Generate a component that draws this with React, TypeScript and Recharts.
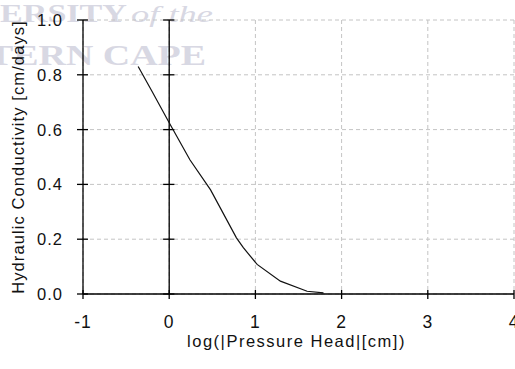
import React from 'react';
import { ComposedChart, Line, XAxis, YAxis, CartesianGrid, ReferenceLine } from 'recharts';

const logHead = [-0.36, -0.2, 0, 0.24, 0.48, 0.78, 0.86, 1.02, 1.29, 1.6, 1.79];
const conductivity = [0.83, 0.74, 0.625, 0.49, 0.38, 0.205, 0.169, 0.108, 0.047, 0.01, 0.004];
const xTicks = [-1, 0, 1, 2, 3, 4];
const yTicks = [0, 0.2, 0.4, 0.6, 0.8, 1.0];
const xTitle = 'log(|Pressure Head|[cm])';
const yTitle = 'Hydraulic Conductivity [cm/days]';
const watermark1 = 'ERSITY';
const watermark2 = 'of the';
const watermark3 = 'TERN CAPE';

const data = logHead.map((x, i) => ({ x, k: conductivity[i] }));

const FONT = '"Liberation Sans", Arial, sans-serif';
const SERIF = '"Liberation Serif", "Times New Roman", serif';
const WM = '#d8d8e3';

const XTick = (props: any) => {
  const { x, y, payload } = props;
  return (
    <g>
      <line x1={x} x2={x} y1={y - 4} y2={y + 5} stroke="#000" strokeWidth={1.3} />
      <text x={x} y={y + 34} textAnchor="middle" fontFamily={FONT} fontSize={17.5} fill="#111" letterSpacing={1}>
        {payload.value}
      </text>
    </g>
  );
};

const YTick = (props: any) => {
  const { x, y, payload } = props;
  return (
    <g>
      <line x1={x - 6} x2={x + 5} y1={y} y2={y} stroke="#000" strokeWidth={1.3} />
      <text x={x - 20} y={y + 6} textAnchor="end" fontFamily={FONT} fontSize={16.5} fill="#111" letterSpacing={1}>
        {Number(payload.value).toFixed(1)}
      </text>
    </g>
  );
};

export default function App() {
  return (
    <div style={{ position: 'absolute', left: 0, top: 0, width: 515, height: 369, background: '#fff' }}>
      <svg width={515} height={369} style={{ position: 'absolute', left: 0, top: 0 }}>
        <text x={0} y={22} fontFamily={SERIF} fontWeight="bold" fontSize={25} fill={WM} textLength={127} lengthAdjust="spacingAndGlyphs">
          {watermark1}
        </text>
        <text x={131} y={22} fontFamily={SERIF} fontStyle="italic" fontSize={24} fill={WM} textLength={82} lengthAdjust="spacingAndGlyphs">
          {watermark2}
        </text>
        <text x={-12} y={65} fontFamily={SERIF} fontWeight="bold" fontSize={29} fill={WM} textLength={218} lengthAdjust="spacingAndGlyphs">
          {watermark3}
        </text>
      </svg>
      <div style={{ position: 'absolute', left: 0, top: 0 }}>
        <ComposedChart width={515} height={369} data={data} margin={{ top: 20, right: 1, left: 0, bottom: 0 }}>
          <CartesianGrid stroke="#c4c4c4" strokeDasharray="4 3" />
          <XAxis
            type="number"
            dataKey="x"
            domain={[-1, 4]}
            ticks={xTicks}
            interval={0}
            height={75}
            tickSize={0}
            tickMargin={0}
            tickLine={false}
            axisLine={{ stroke: '#000', strokeWidth: 1.3 }}
            tick={<XTick />}
            label={{
              content: (p: any) => {
                const vb = p.viewBox;
                return (
                  <text x={vb.x + vb.width / 2 - 2} y={vb.y + 53} textAnchor="middle" fontFamily={FONT} fontSize={16.5} letterSpacing={1.5} fill="#111">
                    {xTitle}
                  </text>
                );
              },
            }}
          />
          <YAxis
            type="number"
            domain={[0, 1]}
            ticks={yTicks}
            interval={0}
            width={83}
            tickSize={0}
            tickMargin={0}
            tickLine={false}
            axisLine={{ stroke: '#000', strokeWidth: 1.3 }}
            tick={<YTick />}
            label={{
              content: (p: any) => {
                const vb = p.viewBox;
                const cx = 24;
                const cy = vb.y + vb.height / 2;
                return (
                  <text x={cx} y={cy} transform={`rotate(-90 ${cx} ${cy})`} textAnchor="middle" fontFamily={FONT} fontSize={16.5} letterSpacing={1.1} fill="#111">
                    {yTitle}
                  </text>
                );
              },
            }}
          />
          <ReferenceLine x={0} stroke="#000" strokeWidth={1.3} ifOverflow="visible" />
          {yTicks.map((t) => (
            <ReferenceLine
              key={t}
              segment={[{ x: -0.07, y: t }, { x: 0.06, y: t }]}
              stroke="#000"
              strokeWidth={1.3}
              ifOverflow="visible"
            />
          ))}
          <Line type="linear" dataKey="k" stroke="#111" strokeWidth={1.2} dot={false} isAnimationActive={false} />
        </ComposedChart>
      </div>
    </div>
  );
}
